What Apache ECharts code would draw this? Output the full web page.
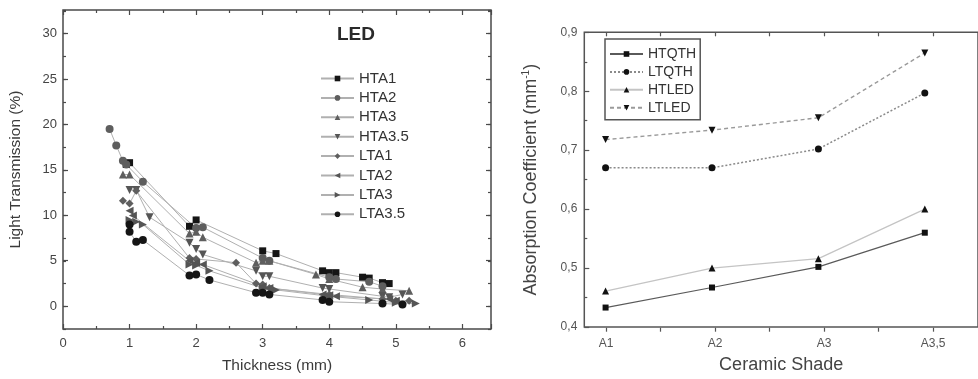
<!DOCTYPE html>
<html><head><meta charset="utf-8">
<script src="https://cdn.jsdelivr.net/npm/echarts@6/dist/echarts.min.js"></script>
<style>html,body{margin:0;padding:0;background:#fff}#c{width:978px;height:379px}</style>
</head><body><div id="c"></div>
<script>
// ---- Left panel: Light transmission vs thickness (LED) ----
const ledNames = ['HTA1','HTA2','HTA3','HTA3.5','LTA1','LTA2','LTA3','LTA3.5'];
const hta1X = [0.95,1.0,1.9,2.0,3.0,3.2,3.9,4.0,4.1,4.5,4.6,4.8,4.9];
const hta1Y = [15.6,15.8,8.8,9.5,6.1,5.8,3.9,3.7,3.7,3.2,3.1,2.6,2.5];
const hta2X = [0.7,0.8,0.9,0.95,1.2,2.0,2.1,3.0,3.1,4.0,4.1,4.6,4.8];
const hta2Y = [19.5,17.7,16.0,15.6,13.7,8.6,8.7,5.3,5.0,3.2,3.0,2.7,2.2];
const hta3X = [0.9,1.0,1.9,2.0,2.1,2.9,3.0,3.1,3.8,4.0,4.5,4.8,5.2];
const hta3Y = [14.5,14.5,8.0,8.2,7.6,4.8,5.0,5.0,3.5,3.0,2.1,1.9,1.7];
const hta35X = [1.0,1.1,1.3,1.9,2.0,2.1,2.9,3.0,3.1,3.9,4.0,4.8,4.9,5.1];
const hta35Y = [12.8,12.8,9.8,7.0,6.3,5.7,3.9,3.3,3.3,2.0,1.9,1.1,1.0,1.3];
const lta1X = [0.9,1.0,1.1,1.9,2.0,2.6,2.9,3.0,3.1,4.0,4.8,5.0,5.2];
const lta1Y = [11.6,11.3,12.7,5.3,5.2,4.8,2.5,2.4,2.0,1.3,0.8,0.6,0.6];
const lta2X = [1.0,1.05,1.9,2.0,2.1,3.0,3.1,3.9,4.0,4.1,4.9,5.0];
const lta2Y = [10.5,10.0,5.0,4.8,4.6,2.2,2.0,1.3,1.2,1.1,0.8,0.6];
const lta3X = [1.0,1.1,1.2,1.9,2.0,2.2,3.0,3.2,4.0,4.6,5.0,5.3];
const lta3Y = [9.5,9.3,9.0,4.6,4.5,3.9,2.0,1.8,1.1,0.7,0.4,0.3];
const lta35X = [1.0,1.0,1.1,1.2,1.9,2.0,2.2,2.9,3.0,3.1,3.9,4.0,4.8,5.1];
const lta35Y = [9.0,8.2,7.1,7.3,3.4,3.5,2.9,1.5,1.5,1.3,0.7,0.5,0.3,0.2];

// ---- Right panel: absorption coefficient vs ceramic shade ----
const shadeCategories = ['A1','A2','A3','A3,5'];
const absNames = ['HTQTH','LTQTH','HTLED','LTLED'];
const htqth = [0.433,0.467,0.502,0.560];
const ltqth = [0.670,0.670,0.702,0.797];
const htled = [0.461,0.500,0.516,0.600];
const ltled = [0.718,0.734,0.755,0.865];

const FONT = 'Liberation Sans, Arial, Helvetica, sans-serif';
const AX = '#4a4a4a';
const zip = (xs, ys) => xs.map((x, i) => [x, ys[i]]);
const shadeData = ys => ys.map((y, i) => [i + 1, y]);

const ledX = [hta1X,hta2X,hta3X,hta35X,lta1X,lta2X,lta3X,lta35X];
const ledY = [hta1Y,hta2Y,hta3Y,hta35Y,lta1Y,lta2Y,lta3Y,lta35Y];
const ledSymbols = ['rect','circle','triangle','triangle','diamond','triangle','triangle','circle'];
const ledRotate = [0,0,0,180,0,90,-90,0];
const ledColors = ['#151515','#5e5e5e','#5e5e5e','#555','#5e5e5e','#555','#555','#151515'];

const leftSeries = ledNames.map((n, i) => ({
  name: n, type: 'line', xAxisIndex: 0, yAxisIndex: 0,
  data: zip(ledX[i], ledY[i]),
  symbol: ledSymbols[i], symbolRotate: ledRotate[i],
  symbolSize: ledSymbols[i] === 'rect' ? 7 : 8,
  itemStyle: { color: ledColors[i] },
  lineStyle: { color: '#b0b0b0', width: 1 },
  z: 3
}));

const absVals = [htqth, ltqth, htled, ltled];
const absSymbols = ['rect','circle','triangle','triangle'];
const absRotate = [0,0,0,180];
const absLines = [
  { color: '#5a5a5a', width: 1.2, type: 'solid' },
  { color: '#8a8a8a', width: 1.5, type: [2, 2] },
  { color: '#c4c4c4', width: 1.2, type: 'solid' },
  { color: '#9a9a9a', width: 1.4, type: [4, 3] }
];
const rightSeries = absNames.map((n, i) => ({
  name: n, type: 'line', xAxisIndex: 3, yAxisIndex: 4,
  data: shadeData(absVals[i]),
  symbol: absSymbols[i], symbolRotate: absRotate[i],
  symbolSize: absSymbols[i] === 'rect' ? 6 : 7,
  itemStyle: { color: '#111' },
  lineStyle: absLines[i],
  z: 3
}));

const tickIn = (len, color) => ({ show: true, inside: true, length: len, lineStyle: { color: color || AX, width: 1.2 } });
const noLine = { show: false, onZero: false };

const chart = echarts.init(document.getElementById('c'), null, { renderer: 'canvas' });
chart.setOption({
  animation: false,
  backgroundColor: '#fff',
  textStyle: { fontFamily: FONT },
  grid: [
    { left: 63, top: 10, width: 428, height: 319, show: true, borderColor: AX, borderWidth: 1.5, backgroundColor: 'transparent' },
    { left: 63, top: 33.7, width: 428, height: 272.3, show: false },
    { left: 584.3, top: 32.3, width: 403.3, height: 299.4, show: true, borderColor: '#555', borderWidth: 1.5, backgroundColor: 'transparent' },
    { left: 606.1, top: 32.3, width: 327, height: 299.4, show: false }
  ],
  xAxis: [
    { gridIndex: 0, type: 'value', min: 0, max: 6.43, interval: 1, position: 'bottom',
      axisLine: noLine, axisTick: tickIn(5), minorTick: { show: true, splitNumber: 2, length: 3, lineStyle: { color: AX, width: 1.2 } },
      splitLine: { show: false },
      axisLabel: { show: true, showMaxLabel: false, margin: 8, fontSize: 13, color: '#444', fontFamily: FONT },
      name: 'Thickness (mm)', nameLocation: 'middle', nameGap: 29,
      nameTextStyle: { fontSize: 15.5, color: '#3a3a3a', fontFamily: FONT } },
    { gridIndex: 0, type: 'value', min: 0, max: 6.43, interval: 1, position: 'top',
      axisLine: noLine, axisTick: tickIn(5), minorTick: { show: true, splitNumber: 2, length: 3, lineStyle: { color: AX, width: 1.2 } },
      splitLine: { show: false }, axisLabel: { show: false } },
    { gridIndex: 1, type: 'value', min: 0, max: 1, show: false },
    { gridIndex: 2, type: 'value', min: 0.8, max: 4.5, position: 'bottom',
      axisLine: noLine, axisTick: { show: false }, splitLine: { show: false }, axisLabel: { show: false },
      name: 'Ceramic Shade', nameLocation: 'middle', nameGap: 29,
      nameTextStyle: { fontSize: 18, color: '#444', fontFamily: FONT } },
    { gridIndex: 3, type: 'value', min: 1, max: 4, interval: 0.5, position: 'bottom',
      axisLine: noLine, axisTick: tickIn(4, '#555'), splitLine: { show: false },
      axisLabel: { margin: 6, fontSize: 12, color: '#555', fontFamily: FONT,
        formatter: v => Number.isInteger(v) ? shadeCategories[v - 1] : '' } },
    { gridIndex: 3, type: 'value', min: 1, max: 4, interval: 0.5, position: 'top',
      axisLine: noLine, axisTick: tickIn(4, '#555'), splitLine: { show: false }, axisLabel: { show: false } }
  ],
  yAxis: [
    { gridIndex: 0, type: 'value', min: -2.5, max: 32.6, interval: 2.5, position: 'left',
      axisLine: noLine, axisTick: tickIn(3), splitLine: { show: false }, axisLabel: { show: false },
      name: 'Light Transmission (%)', nameLocation: 'middle', nameGap: 39,
      nameTextStyle: { fontSize: 15.5, color: '#3a3a3a', fontFamily: FONT } },
    { gridIndex: 0, type: 'value', min: -2.5, max: 32.6, interval: 2.5, position: 'right',
      axisLine: noLine, axisTick: tickIn(3), splitLine: { show: false }, axisLabel: { show: false } },
    { gridIndex: 1, type: 'value', min: 0, max: 30, interval: 5, position: 'left',
      axisLine: noLine, axisTick: tickIn(5), splitLine: { show: false },
      axisLabel: { margin: 6, fontSize: 13, color: '#444', fontFamily: FONT } },
    { gridIndex: 1, type: 'value', min: 0, max: 30, interval: 5, position: 'right',
      axisLine: noLine, axisTick: tickIn(5), splitLine: { show: false }, axisLabel: { show: false } },
    { gridIndex: 2, type: 'value', min: 0.4, max: 0.9, interval: 0.1, position: 'left',
      axisLine: noLine, axisTick: tickIn(5, '#555'),
      minorTick: { show: true, splitNumber: 2, length: 3, lineStyle: { color: '#555', width: 1.2 } },
      splitLine: { show: false },
      axisLabel: { margin: 7, fontSize: 12, color: '#555', fontFamily: FONT,
        formatter: v => v.toFixed(1).replace('.', ',') },
      name: '{a|Absorption Coefficient (mm}{s|-1}{a|)}', nameLocation: 'middle', nameGap: 44,
      nameTextStyle: { rich: {
        a: { fontSize: 18, color: '#444', fontFamily: FONT },
        s: { fontSize: 10, color: '#444', fontFamily: FONT, verticalAlign: 'top', padding: [0, 0, 9, 0] } } } },
    { gridIndex: 3, type: 'value', min: 0, max: 1, show: false }
  ],
  legend: [
    { data: ledNames, orient: 'vertical', left: 320, top: 71, padding: 0,
      itemWidth: 33, itemHeight: 7, itemGap: 4.4,
      textStyle: { fontSize: 15, color: '#333', fontFamily: FONT } },
    { data: absNames, orient: 'vertical', left: 605, top: 39, padding: [8, 4, 5, 4],
      borderColor: '#555', borderWidth: 1.5, borderRadius: 0, backgroundColor: '#fff',
      itemWidth: 33, itemHeight: 7, itemGap: 3.9,
      textStyle: { fontSize: 14, color: '#333', fontFamily: FONT } }
  ],
  graphic: [
    { type: 'text', left: 337, top: 25, style: { text: 'LED', font: 'bold 19px ' + FONT, fill: '#2a2a2a' } }
  ],
  series: leftSeries.concat(rightSeries)
});
</script></body></html>
